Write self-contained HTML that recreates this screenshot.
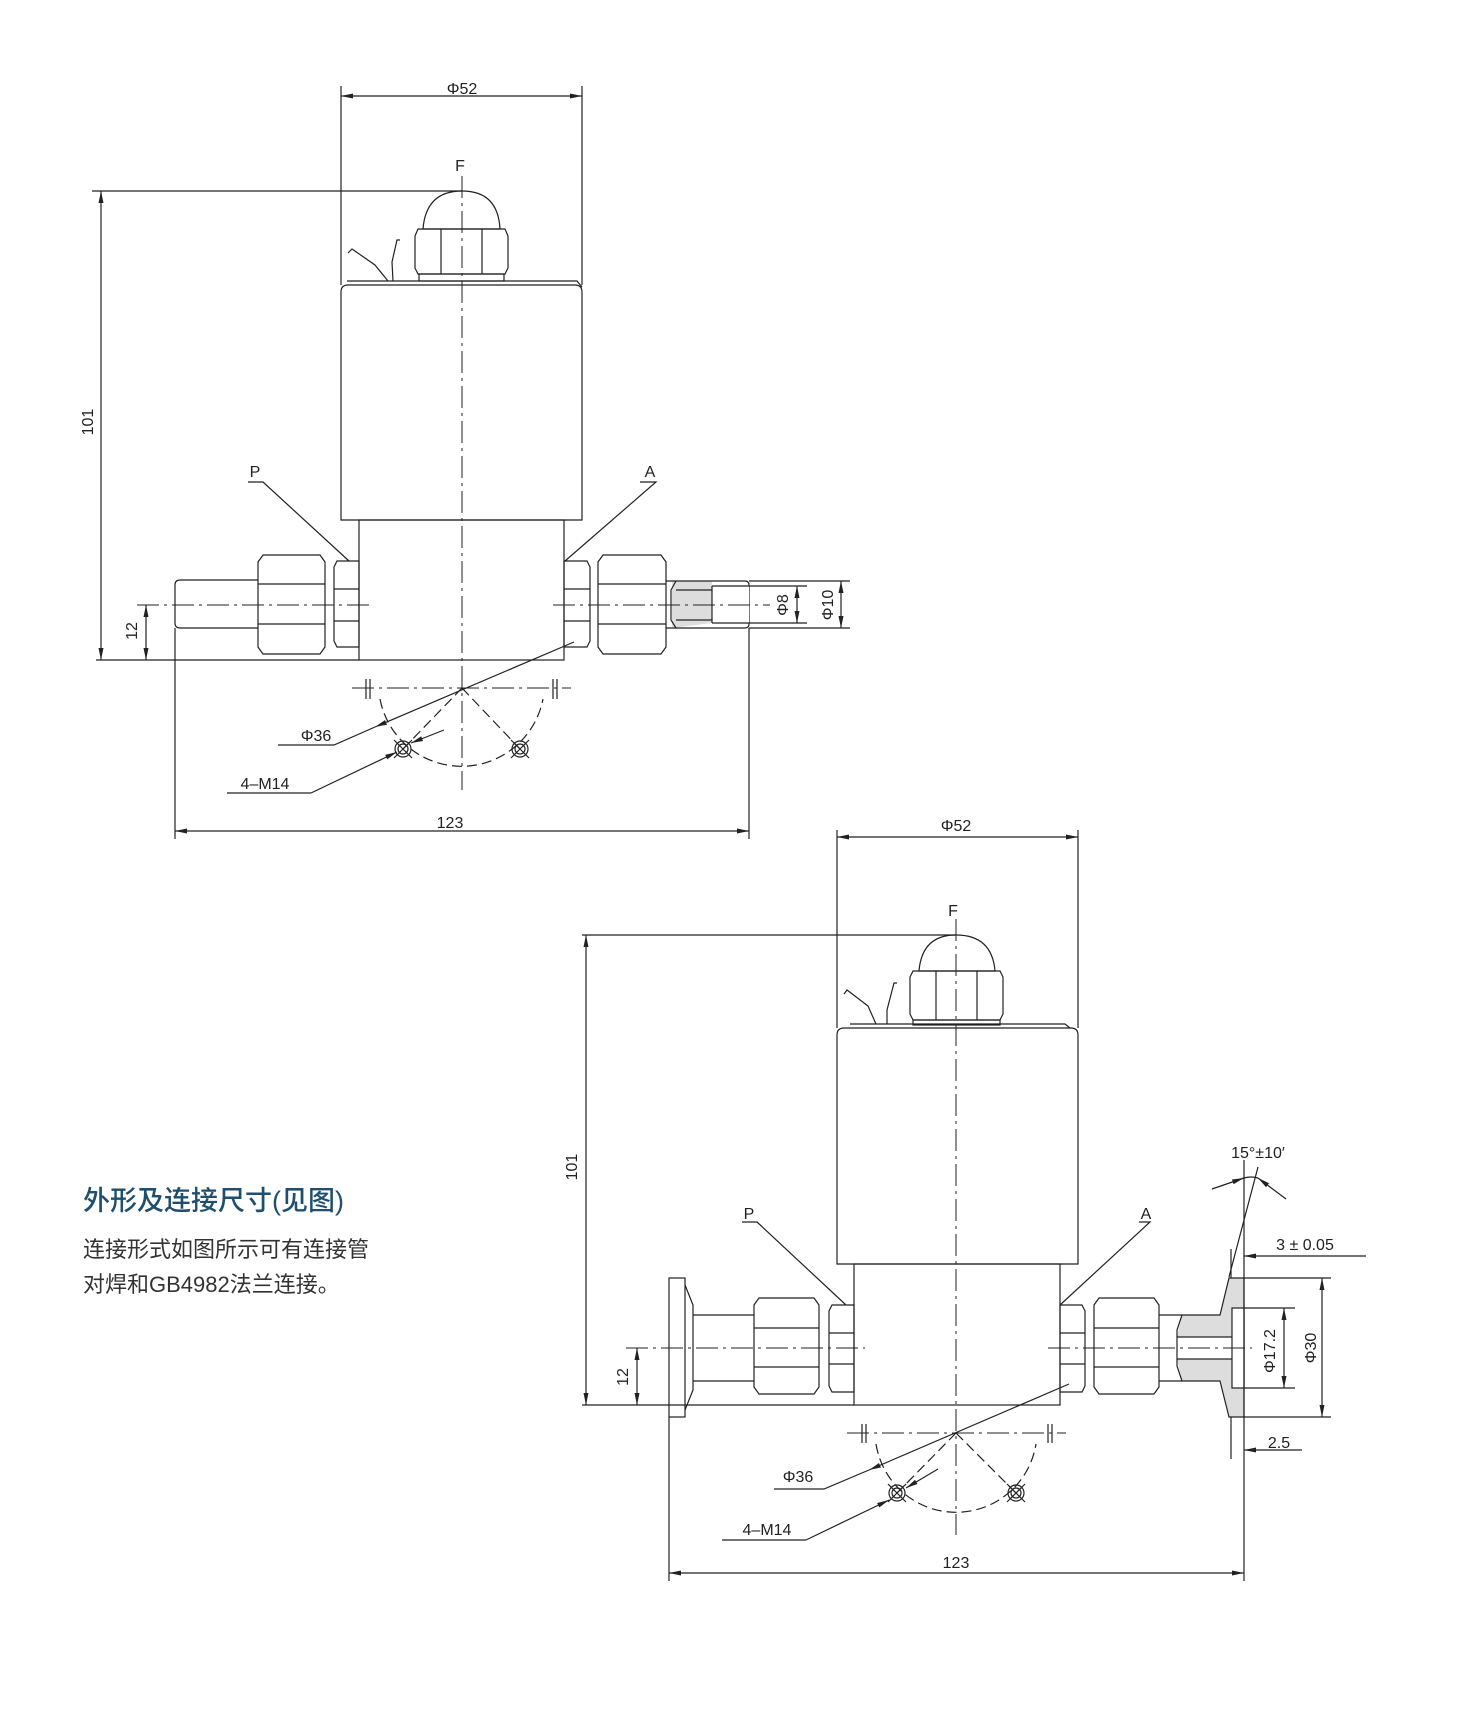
<!DOCTYPE html>
<html><head><meta charset="utf-8"><style>
html,body{margin:0;padding:0;background:#fff}
svg{display:block}
text{font-family:"Liberation Sans","Noto Sans CJK SC",sans-serif;fill:#222}
</style></head><body>
<svg width="1464" height="1728" viewBox="0 0 1464 1728" xmlns="http://www.w3.org/2000/svg">
<defs>
<marker id="a" viewBox="0 0 12 6" refX="12" refY="3" markerWidth="12" markerHeight="6" markerUnits="userSpaceOnUse" orient="auto-start-reverse"><path d="M0,0.5 L12,3 L0,5.5 Z" fill="#222"/></marker>
</defs>
<g stroke="#222" stroke-width="1.2" fill="none">
<line x1="341" y1="86" x2="341" y2="285"/><line x1="582" y1="86" x2="582" y2="285"/>
<line x1="341" y1="96" x2="582" y2="96" marker-start="url(#a)" marker-end="url(#a)"/>
<line x1="92" y1="191" x2="462" y2="191"/>
<line x1="101" y1="191" x2="101" y2="660" marker-start="url(#a)" marker-end="url(#a)"/>
<line x1="96" y1="660" x2="359" y2="660"/>
<line x1="146" y1="605" x2="146" y2="660" marker-start="url(#a)" marker-end="url(#a)"/>
<path d="M423,229 Q426,191 462,191 Q498,191 500,229 Z"/>
<path d="M418,229 L505,229 L508,236 L508,268 L505,274 L418,274 L415,268 L415,236 Z"/>
<line x1="441" y1="229" x2="441" y2="274"/><line x1="482" y1="229" x2="482" y2="274"/>
<rect x="419" y="274" width="85" height="7"/>
<path d="M348,253 L352,249 L375,265 L388,281"/>
<path d="M400,240 L397,240 L392,262 L393,281"/>
<path d="M347,281 L577,281 L582,287"/>
<path d="M341,520 L341,292 Q341,285 348,285 L575,285 Q582,285 582,292 L582,520 Z"/>
<rect x="359" y="520" width="205" height="140"/>
<path d="M258,580 L180,580 Q175,580 175,585 L175,623 Q175,628 180,628 L258,628"/>
<path d="M263,555 L320,555 L325,562 L325,647 L320,654 L263,654 L258,647 L258,562 Z"/>
<line x1="258" y1="584" x2="325" y2="584"/><line x1="258" y1="624" x2="325" y2="624"/>
<path d="M337,561 L359,561 L359,647 L337,647 L334,641 L334,567 Z"/>
<line x1="334" y1="589" x2="359" y2="589"/><line x1="334" y1="621" x2="359" y2="621"/>
<path d="M564,561 L587,561 L590,567 L590,641 L587,647 L564,647 Z"/>
<line x1="564" y1="589" x2="590" y2="589"/><line x1="564" y1="621" x2="590" y2="621"/>
<path d="M603,555 L661,555 L666,562 L666,647 L661,654 L603,654 L598,647 L598,562 Z"/>
<line x1="598" y1="584" x2="666" y2="584"/><line x1="598" y1="624" x2="666" y2="624"/>
<path d="M672,581 L712,581 L712,623 L672,628 Z" fill="#ddd" stroke="none"/>
<path d="M666,581 L745,581 Q749,581 749,585 L749,624 Q749,628 745,628 L666,628"/>
<path d="M676,581 L671,590 L671,620 L676,628"/>
<line x1="676" y1="590" x2="712" y2="590"/><line x1="676" y1="620" x2="712" y2="620"/>
<rect x="712" y="586" width="37" height="37" fill="#fff" stroke="none"/>
<path d="M712,586 L712,623 M712,586 L749,586 M712,623 L749,623"/>
<line x1="749" y1="586" x2="807" y2="586"/><line x1="749" y1="623" x2="807" y2="623"/>
<line x1="797" y1="586" x2="797" y2="623" marker-start="url(#a)" marker-end="url(#a)"/>
<line x1="749" y1="581" x2="850" y2="581"/><line x1="749" y1="628" x2="850" y2="628"/>
<line x1="841" y1="581" x2="841" y2="628" marker-start="url(#a)" marker-end="url(#a)"/>
<line x1="175" y1="628" x2="175" y2="839"/><line x1="749" y1="628" x2="749" y2="839"/>
<line x1="175" y1="831" x2="749" y2="831" marker-start="url(#a)" marker-end="url(#a)"/>
<path d="M248,482 L263,482 L349,561"/>
<path d="M640,482 L656,482 L565,561"/>
<line x1="366" y1="679" x2="366" y2="699"/><line x1="370" y1="679" x2="370" y2="699"/>
<line x1="553" y1="679" x2="553" y2="699"/><line x1="557" y1="679" x2="557" y2="699"/>
<path d="M380,699 A83,83 0 0,0 543,699" stroke-dasharray="10,5"/>
<line x1="462" y1="688" x2="403" y2="749" stroke-dasharray="10,5"/>
<line x1="462" y1="688" x2="520" y2="749" stroke-dasharray="10,5"/>
<circle cx="403" cy="749" r="8"/><circle cx="403" cy="749" r="5"/>
<circle cx="520" cy="749" r="8"/><circle cx="520" cy="749" r="5"/>
<path d="M394,740 L412,758 M412,740 L394,758 M511,740 L529,758 M529,740 L511,758"/>
<path d="M574,642 L375,727" marker-end="url(#a)"/>
<path d="M375,727 L334,745 L278,745"/>
<path d="M444,730 L411,743" marker-end="url(#a)"/>
<path d="M311,793 L397,752" marker-end="url(#a)"/>
<path d="M227,793 L311,793"/>
<line x1="837" y1="830" x2="837" y2="1028"/><line x1="1078" y1="830" x2="1078" y2="1028"/>
<line x1="837" y1="837" x2="1078" y2="837" marker-start="url(#a)" marker-end="url(#a)"/>
<line x1="582" y1="935" x2="956" y2="935"/>
<line x1="586" y1="935" x2="586" y2="1405" marker-start="url(#a)" marker-end="url(#a)"/>
<line x1="582" y1="1405" x2="854" y2="1405"/>
<line x1="637" y1="1348" x2="637" y2="1405" marker-start="url(#a)" marker-end="url(#a)"/>
<path d="M919,971 Q922,935 956,935 Q992,935 995,971 Z"/>
<path d="M913,971 L1000,971 L1003,977 L1003,1014 L1000,1020 L913,1020 L910,1014 L910,977 Z"/>
<line x1="936" y1="971" x2="936" y2="1020"/><line x1="977" y1="971" x2="977" y2="1020"/>
<rect x="913" y="1020" width="87" height="5"/>
<path d="M844,994 L847,990 L868,1006 L876,1024"/>
<path d="M897,983 L894,983 L887,1010 L887,1024"/>
<path d="M850,1024 L1065,1024 L1070,1028"/>
<path d="M837,1264 L837,1035 Q837,1028 844,1028 L1071,1028 Q1078,1028 1078,1035 L1078,1264 Z"/>
<rect x="854" y="1264" width="206" height="141"/>
<rect x="669" y="1278" width="16" height="139"/>
<path d="M685,1285 L693,1305 L693,1390 L685,1410"/>
<path d="M693,1315 L754,1315 M693,1381 L754,1381"/>
<path d="M759,1298 L814,1298 L819,1305 L819,1387 L814,1394 L759,1394 L754,1387 L754,1305 Z"/>
<line x1="754" y1="1328" x2="819" y2="1328"/><line x1="754" y1="1367" x2="819" y2="1367"/>
<path d="M832,1305 L854,1305 L854,1392 L832,1392 L829,1386 L829,1311 Z"/>
<line x1="829" y1="1333" x2="854" y2="1333"/><line x1="829" y1="1364" x2="854" y2="1364"/>
<path d="M1060,1305 L1082,1305 L1085,1311 L1085,1386 L1082,1392 L1060,1392 Z"/>
<line x1="1060" y1="1333" x2="1085" y2="1333"/><line x1="1060" y1="1364" x2="1085" y2="1364"/>
<path d="M1099,1298 L1154,1298 L1159,1305 L1159,1387 L1154,1394 L1099,1394 L1094,1387 L1094,1305 Z"/>
<line x1="1094" y1="1328" x2="1159" y2="1328"/><line x1="1094" y1="1367" x2="1159" y2="1367"/>
<path d="M1182,1315 L1220,1315 L1229,1278 L1244,1278 L1244,1308 L1232,1308 L1232,1337 L1177,1337 Z" fill="#ddd" stroke="none"/>
<path d="M1177,1359 L1232,1359 L1232,1388 L1244,1388 L1244,1417 L1229,1417 L1220,1381 L1182,1381 Z" fill="#ddd" stroke="none"/>
<path d="M1159,1315 L1220,1315 L1229,1278 L1244,1278 L1244,1417 L1229,1417 L1220,1381 L1159,1381"/>
<path d="M1182,1315 L1177,1330 L1177,1366 L1182,1381"/>
<line x1="1177" y1="1337" x2="1232" y2="1337"/><line x1="1177" y1="1359" x2="1232" y2="1359"/>
<rect x="1232" y="1308" width="12" height="80" fill="#fff"/>
<line x1="1244" y1="1308" x2="1295" y2="1308"/><line x1="1244" y1="1388" x2="1295" y2="1388"/>
<line x1="1284" y1="1308" x2="1284" y2="1388" marker-start="url(#a)" marker-end="url(#a)"/>
<line x1="1244" y1="1278" x2="1331" y2="1278"/><line x1="1244" y1="1417" x2="1331" y2="1417"/>
<line x1="1322" y1="1278" x2="1322" y2="1417" marker-start="url(#a)" marker-end="url(#a)"/>
<line x1="1231" y1="1249" x2="1231" y2="1278"/>
<line x1="1366" y1="1256" x2="1244" y2="1256" marker-end="url(#a)"/>
<line x1="1231" y1="1417" x2="1231" y2="1459"/>
<line x1="1302" y1="1450" x2="1244" y2="1450" marker-end="url(#a)"/>
<line x1="1244" y1="1160" x2="1244" y2="1581"/>
<line x1="1258" y1="1167" x2="1229" y2="1277"/>
<line x1="1212" y1="1189" x2="1244" y2="1178" marker-end="url(#a)"/>
<line x1="1286" y1="1199" x2="1258" y2="1178" marker-end="url(#a)"/>
<path d="M1244,1178 Q1251,1176 1258,1178"/>
<line x1="669" y1="1417" x2="669" y2="1581"/>
<line x1="669" y1="1573" x2="1244" y2="1573" marker-start="url(#a)" marker-end="url(#a)"/>
<path d="M742,1222 L757,1222 L846,1305"/>
<path d="M1139,1222 L1150,1222 L1060,1305"/>
<line x1="862" y1="1424" x2="862" y2="1443"/><line x1="866" y1="1424" x2="866" y2="1443"/>
<line x1="1048" y1="1424" x2="1048" y2="1443"/><line x1="1052" y1="1424" x2="1052" y2="1443"/>
<path d="M876,1444 A81,81 0 0,0 1036,1444" stroke-dasharray="10,5"/>
<line x1="956" y1="1433" x2="897" y2="1493" stroke-dasharray="10,5"/>
<line x1="956" y1="1433" x2="1016" y2="1493" stroke-dasharray="10,5"/>
<circle cx="897" cy="1493" r="8"/><circle cx="897" cy="1493" r="5"/>
<circle cx="1016" cy="1493" r="8"/><circle cx="1016" cy="1493" r="5"/>
<path d="M888,1484 L906,1502 M906,1484 L888,1502 M1007,1484 L1025,1502 M1025,1484 L1007,1502"/>
<path d="M1069,1384 L869,1470" marker-end="url(#a)"/>
<path d="M869,1470 L824,1489 L774,1489"/>
<path d="M938,1469 L906,1488" marker-end="url(#a)"/>
<path d="M806,1540 L889,1500" marker-end="url(#a)"/>
<path d="M722,1540 L806,1540"/>
</g>
<g stroke="#222" stroke-width="1" fill="none" stroke-dasharray="22,5,3,5">
<line x1="462" y1="176" x2="462" y2="790"/>
<line x1="137" y1="605" x2="370" y2="605"/>
<line x1="553" y1="605" x2="770" y2="605"/>
<line x1="352" y1="688" x2="571" y2="688"/>
<line x1="956" y1="919" x2="956" y2="1535"/>
<line x1="626" y1="1348" x2="865" y2="1348"/>
<line x1="1048" y1="1348" x2="1252" y2="1348"/>
<line x1="847" y1="1433" x2="1066" y2="1433"/>
</g>
<g font-size="16" text-anchor="middle">
<text x="462" y="94">Φ52</text>
<text x="460" y="171">F</text>
<text x="88" y="422" transform="rotate(-90 88 422)" dy="5">101</text>
<text x="132" y="631" transform="rotate(-90 132 631)" dy="5">12</text>
<text x="255" y="477">P</text>
<text x="650" y="477">A</text>
<text x="783" y="605" transform="rotate(-90 783 605)" dy="5">Φ8</text>
<text x="828" y="605" transform="rotate(-90 828 605)" dy="5">Φ10</text>
<text x="316" y="741">Φ36</text>
<text x="265" y="789">4–M14</text>
<text x="450" y="828">123</text>
<text x="956" y="831">Φ52</text>
<text x="953" y="916">F</text>
<text x="572" y="1167" transform="rotate(-90 572 1167)" dy="5">101</text>
<text x="623" y="1377" transform="rotate(-90 623 1377)" dy="5">12</text>
<text x="749" y="1219">P</text>
<text x="1146" y="1219">A</text>
<text x="1270" y="1351" transform="rotate(-90 1270 1351)" dy="5">Φ17.2</text>
<text x="1311" y="1348" transform="rotate(-90 1311 1348)" dy="5">Φ30</text>
<text x="1305" y="1250">3 ± 0.05</text>
<text x="1279" y="1448">2.5</text>
<text x="1258" y="1158">15°±10′</text>
<text x="798" y="1482">Φ36</text>
<text x="767" y="1535">4–M14</text>
<text x="956" y="1568">123</text>
</g>
<text x="83" y="1210" font-size="27" font-weight="500" style="fill:#1f4e6e">外形及连接尺寸(见图)</text>
<text x="83" y="1257" font-size="22" style="fill:#333">连接形式如图所示可有连接管</text>
<text x="83" y="1292" font-size="22" style="fill:#333">对焊和GB4982法兰连接。</text>
</svg>
</body></html>
